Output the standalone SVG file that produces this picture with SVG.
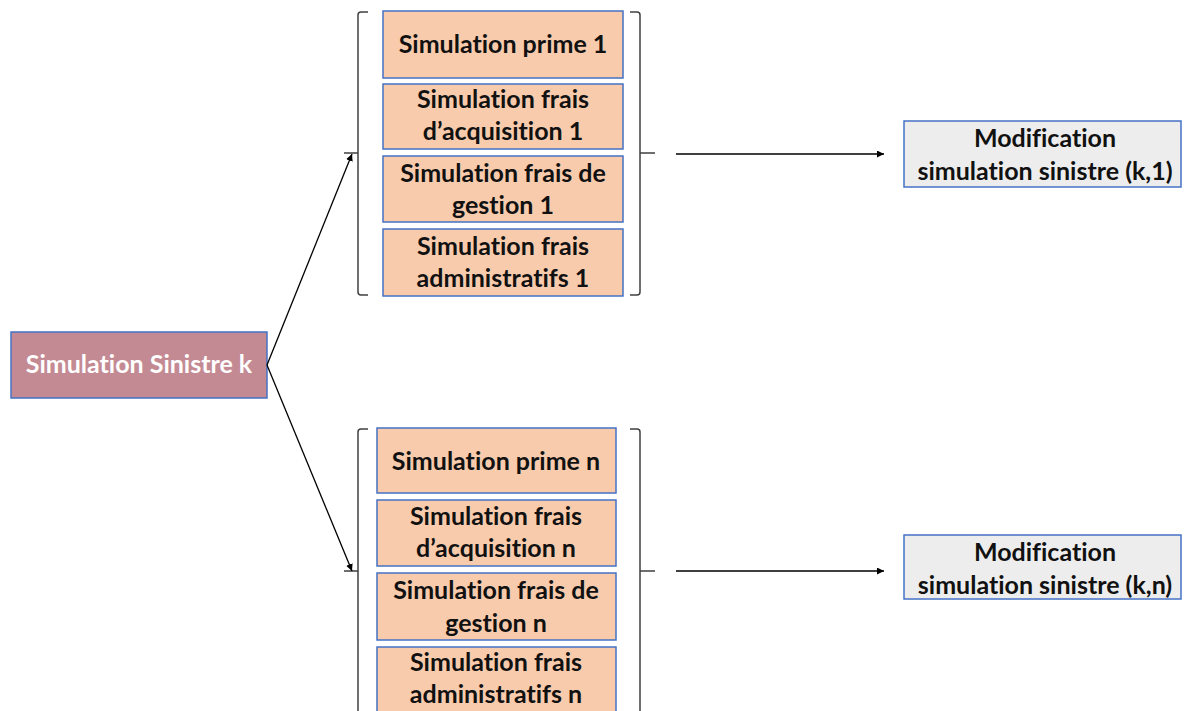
<svg xmlns="http://www.w3.org/2000/svg" width="1186" height="711" viewBox="0 0 1186 711">
<defs>
<marker id="ah" viewBox="0 0 10 10" refX="10" refY="5" markerWidth="7" markerHeight="7" markerUnits="userSpaceOnUse" orient="auto"><path d="M0,0 L10,5 L0,10 z" fill="#000"/></marker>
<style>
.t{font-family:Lato,"Open Sans",sans-serif;font-weight:bold;font-size:25px;text-anchor:middle;fill:#111;font-variant-ligatures:none;font-feature-settings:"liga" 0}
.o{fill:#F8CBAD;stroke:#4472C4;stroke-width:1.5}
.m{fill:#EDEDED;stroke:#4472C4;stroke-width:1.5}
.br{fill:none;stroke:#404040;stroke-width:1.5}
.c{fill:none;stroke:#000;stroke-width:1.3}
</style>
</defs>
<rect width="1186" height="711" fill="#fff"/>
<g id="sinistre">
<rect x="11" y="332" width="256" height="66" fill="#C48A93" stroke="#4472C4" stroke-width="1.5"/>
<text class="t" x="139" y="373" style="fill:#fff">Simulation Sinistre k</text>
</g>
<g id="group1">
<path class="br" d="M368,12 H361 Q358,12 358,15 V292 Q358,295 361,295 H368 M358,153 H344"/>
<path class="br" d="M630,12 H637 Q640,12 640,15 V292 Q640,295 637,295 H630 M640,153 H655"/>
<g id="prime1"><rect class="o" x="383" y="11" width="240" height="67"/><text class="t" x="503" y="53">Simulation prime 1</text></g>
<g id="acq1"><rect class="o" x="383" y="84" width="240" height="65"/><text class="t" x="503" y="108">Simulation frais</text><text class="t" x="503" y="140">d’acquisition 1</text></g>
<g id="gest1"><rect class="o" x="383" y="156" width="240" height="66"/><text class="t" x="503" y="182">Simulation frais de</text><text class="t" x="503" y="214">gestion 1</text></g>
<g id="adm1"><rect class="o" x="383" y="229" width="240" height="67"/><text class="t" x="503" y="255">Simulation frais</text><text class="t" x="503" y="287">administratifs 1</text></g>
</g>
<g id="group2">
<path class="br" d="M368,429 H361 Q358,429 358,432 V715 M358,571 H344"/>
<path class="br" d="M630,429 H637 Q640,429 640,432 V715 M640,571 H655"/>
<g id="primen"><rect class="o" x="377" y="428" width="239" height="65"/><text class="t" x="496" y="470">Simulation prime n</text></g>
<g id="acqn"><rect class="o" x="377" y="500" width="239" height="66"/><text class="t" x="496" y="525">Simulation frais</text><text class="t" x="496" y="557">d’acquisition n</text></g>
<g id="gestn"><rect class="o" x="377" y="573" width="239" height="67"/><text class="t" x="496" y="599">Simulation frais de</text><text class="t" x="496" y="632">gestion n</text></g>
<g id="admn"><rect class="o" x="377" y="647" width="239" height="70"/><text class="t" x="496" y="671">Simulation frais</text><text class="t" x="496" y="703">administratifs n</text></g>
</g>
<g id="mod1"><rect class="m" x="904" y="121" width="277" height="66"/><text class="t" x="1045" y="147">Modification</text><text class="t" x="1045" y="180">simulation sinistre (k,1)</text></g>
<g id="modn"><rect class="m" x="904" y="535" width="277" height="64"/><text class="t" x="1045" y="561">Modification</text><text class="t" x="1045" y="594">simulation sinistre (k,n)</text></g>
<g id="connectors">
<line class="c" x1="267" y1="365" x2="352" y2="154" marker-end="url(#ah)"/>
<line class="c" x1="267" y1="365" x2="352" y2="571" marker-end="url(#ah)"/>
<line class="c" x1="676" y1="154" x2="884" y2="154" marker-end="url(#ah)"/>
<line class="c" x1="676" y1="571" x2="884" y2="571" marker-end="url(#ah)"/>
</g>
</svg>
